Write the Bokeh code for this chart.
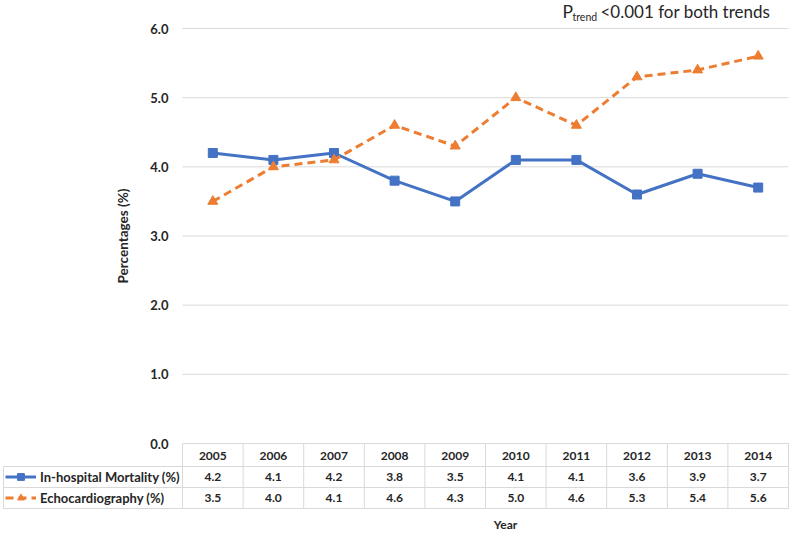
from bokeh.plotting import figure
from bokeh.models import (Range1d, FixedTicker, NumeralTickFormatter, Label, LinearAxis,
                          ColumnDataSource, Legend, LegendItem)
from bokeh.core.properties import value
from bokeh.embed import file_html
from bokeh.resources import INLINE

# ---------------- data ----------------
years = ["2005", "2006", "2007", "2008", "2009", "2010", "2011", "2012", "2013", "2014"]
mortality = [4.2, 4.1, 4.2, 3.8, 3.5, 4.1, 4.1, 3.6, 3.9, 3.7]
echo = [3.5, 4.0, 4.1, 4.6, 4.3, 5.0, 4.6, 5.3, 5.4, 5.6]
y_ticks = [0, 1, 2, 3, 4, 5, 6]
series_names = ["In-hospital Mortality (%)", "Echocardiography (%)"]

# ---------------- layout constants (pixels) ----------------
W, H = 796, 532
FL, FR, FT, F0 = 182, 788, 28, 443   # chart area left/right/top and y of value 0
n = len(years)
px_x = (FR - FL) / n
px_y = (F0 - FT) / (y_ticks[-1] - y_ticks[0])
FONT = "Lato"
BLUE = "#4472C4"
ORANGE = "#ED7D31"
GRID = "#d9d9d9"
TXT = "#262626"


def X(px):          # pixel column -> data x
    return -0.5 + (px - FL) / px_x


def Y(py):          # pixel row -> data y
    return (F0 - py) / px_y


idx = list(range(n))

p = figure(width=W, height=H, output_backend="svg", toolbar_location=None,
           x_range=Range1d(X(0), X(W)), y_range=Range1d(Y(H), Y(0)),
           x_axis_location=None, y_axis_location=None,
           min_border_left=0, min_border_right=0, min_border_top=0, min_border_bottom=0)
p.outline_line_color = None
p.background_fill_color = "white"
p.border_fill_color = "white"
p.xgrid.grid_line_color = None
p.ygrid.grid_line_color = None

# y axis, pinned at the left edge of the chart area
ax = LinearAxis(fixed_location=X(FL), bounds=(y_ticks[0], y_ticks[-1]))
ax.ticker = FixedTicker(ticks=y_ticks)
ax.formatter = NumeralTickFormatter(format="0.0")
ax.axis_line_color = None
ax.major_tick_line_color = None
ax.minor_tick_line_color = None
ax.major_tick_out = 0
ax.major_tick_in = 0
ax.major_label_standoff = 14
ax.major_label_text_font = FONT
ax.major_label_text_font_style = "bold"
ax.major_label_text_font_size = "13px"
ax.major_label_text_color = TXT
ax.axis_label = "Percentages (%)"
ax.axis_label_text_font = FONT
ax.axis_label_text_font_style = "bold"
ax.axis_label_text_font_size = "13.5px"
ax.axis_label_text_color = TXT
ax.axis_label_standoff = 16
p.add_layout(ax, "left")

# horizontal grid lines of the chart area
p.segment(x0=[X(FL)] * len(y_ticks), y0=y_ticks, x1=[X(FR)] * len(y_ticks), y1=y_ticks,
          line_color=GRID, line_width=1)

src = ColumnDataSource(dict(x=idx, m=mortality, e=echo, yr=years,
                            mt=["%.1f" % v for v in mortality],
                            et=["%.1f" % v for v in echo]))

l1 = p.line("x", "m", source=src, line_color=BLUE, line_width=3)
s1 = p.scatter("x", "m", source=src, marker="square", size=9,
               fill_color=BLUE, line_color=BLUE)
l2 = p.line("x", "e", source=src, line_color=ORANGE, line_width=3, line_dash="8 5")
s2 = p.scatter("x", "e", source=src, marker="triangle", size=10,
               fill_color=ORANGE, line_color=ORANGE)

# ---------------- data table ----------------
rows = [466, 487, 508]
p.segment(x0=[X(3)] * 3, y0=[Y(r) for r in rows], x1=[X(FR)] * 3, y1=[Y(r) for r in rows],
          line_color=GRID, line_width=1)
bx = [-0.5 + k for k in range(n + 1)]
p.segment(x0=bx, y0=[0] * len(bx), x1=bx, y1=[Y(rows[-1])] * len(bx),
          line_color=GRID, line_width=1)
p.segment(x0=[X(3)], y0=[Y(rows[0])], x1=[X(3)], y1=[Y(rows[-1])],
          line_color=GRID, line_width=1)

for col, yy in (("yr", Y(455)), ("mt", Y(476.5)), ("et", Y(497.5))):
    p.text(x="x", y=yy, text=col, source=src, text_align="center",
           text_baseline="middle", text_font=value(FONT), text_font_style="bold",
           text_font_size="12px", text_color=TXT)

legend = Legend(items=[LegendItem(label=series_names[0], renderers=[l1, s1]),
                       LegendItem(label=series_names[1], renderers=[l2, s2])],
                location=(5, H - 468 - 38),
                glyph_width=31, glyph_height=17, label_height=17,
                spacing=4, padding=0, margin=0, label_standoff=4,
                label_text_font=FONT, label_text_font_style="bold",
                label_text_font_size="13px", label_text_color=TXT,
                border_line_color=None, background_fill_alpha=0)
p.add_layout(legend)

p.add_layout(Label(x=X(505), y=Y(524), text="Year", text_align="center",
                   text_baseline="middle", text_font=FONT, text_font_style="bold",
                   text_font_size="12px", text_color=TXT))

# ---------------- P-trend annotation ----------------
p.add_layout(Label(x=X(562), y=Y(11), text="P", text_align="left",
                   text_baseline="middle", text_font=FONT,
                   text_font_size="17.5px", text_color=TXT))
p.add_layout(Label(x=X(572), y=Y(16), text="trend", text_align="left",
                   text_baseline="middle", text_font=FONT,
                   text_font_size="10.5px", text_color=TXT))
p.add_layout(Label(x=X(600), y=Y(11), text="<0.001 for both trends", text_align="left",
                   text_baseline="middle", text_font=FONT,
                   text_font_size="17px", text_color=TXT))

open("out.html", "w").write(file_html(p, INLINE))
